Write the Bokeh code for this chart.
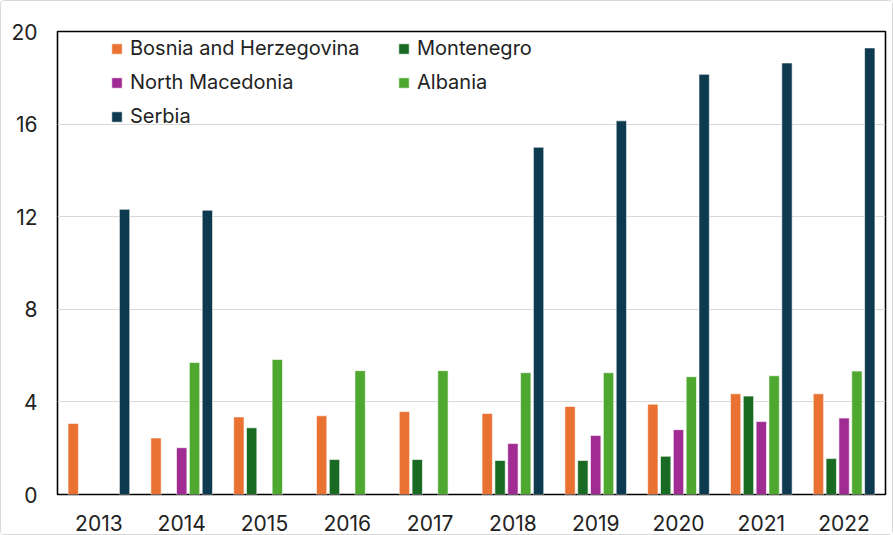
from bokeh.plotting import figure
from bokeh.models import ColumnDataSource, FactorRange, Range1d, Legend, LegendItem, FixedTicker
from bokeh.transform import dodge
from bokeh.embed import file_html
from bokeh.resources import INLINE

nan = float("nan")

years = ["2013", "2014", "2015", "2016", "2017", "2018", "2019", "2020", "2021", "2022"]
bosnia = [3.07, 2.44, 3.35, 3.4, 3.58, 3.5, 3.8, 3.9, 4.35, 4.35]
montenegro = [nan, nan, 2.88, 1.51, 1.51, 1.47, 1.47, 1.65, 4.25, 1.55]
north_macedonia = [nan, 2.02, nan, nan, nan, 2.2, 2.55, 2.8, 3.15, 3.3]
albania = [nan, 5.7, 5.83, 5.35, 5.35, 5.26, 5.26, 5.09, 5.13, 5.33]
serbia = [12.32, 12.28, nan, nan, nan, 15.0, 16.14, 18.15, 18.64, 19.29]
y_ticks = [0, 4, 8, 12, 16, 20]

series = [
    ("Bosnia and Herzegovina", bosnia, "#E97132"),
    ("Montenegro", montenegro, "#196B24"),
    ("North Macedonia", north_macedonia, "#A02B93"),
    ("Albania", albania, "#4EA72E"),
    ("Serbia", serbia, "#0E3A4F"),
]

FONT = "Inter"

source = ColumnDataSource(data=dict(
    year=years, bosnia=bosnia, montenegro=montenegro,
    north_macedonia=north_macedonia, albania=albania, serbia=serbia))
cols = ["bosnia", "montenegro", "north_macedonia", "albania", "serbia"]

p = figure(width=893, height=535, x_range=FactorRange(*years), y_range=Range1d(0, 20),
           output_backend="svg", toolbar_location=None,
           min_border_left=56, min_border_right=9, min_border_top=30, min_border_bottom=42)
p.styles = {"border": "1px solid #d9d9d9", "border-radius": "4px", "box-sizing": "border-box"}

pitch = 0.155
renderers = []
for i, (name, vals, color) in enumerate(series):
    r = p.vbar(x=dodge("year", (i - 2) * pitch, range=p.x_range), top=cols[i], width=0.125,
               source=source, fill_color=color, line_color="white", line_width=0.6)
    renderers.append((name, r))

p.outline_line_color = "black"
p.outline_line_width = 1.6
p.xgrid.grid_line_color = None
p.ygrid.grid_line_color = "#d9d9d9"
p.ygrid.grid_line_width = 1
p.yaxis.ticker = FixedTicker(ticks=y_ticks)

for ax in (p.xaxis, p.yaxis):
    ax.axis_line_color = None
    ax.major_tick_line_color = None
    ax.minor_tick_line_color = None
    ax.major_label_text_font = FONT
    ax.major_label_text_font_size = "21px"
    ax.major_label_text_color = "#222222"
p.yaxis.major_label_standoff = 14
p.xaxis.major_label_standoff = 14

def make_legend(items, vx, vy):
    lg = Legend(items=[LegendItem(label=n, renderers=[r]) for n, r in items],
                location=(vx, vy), orientation="vertical",
                padding=0, margin=0, spacing=10,
                glyph_width=13, glyph_height=13, label_standoff=7, label_height=22,
                label_text_font=FONT, label_text_font_size="20px", label_text_color="#222222",
                border_line_color=None, background_fill_alpha=0)
    p.add_layout(lg, "center")

d = dict(renderers)
make_legend([(n, d[n]) for n in ["Bosnia and Herzegovina", "North Macedonia", "Serbia"]], 53, 366)
make_legend([(n, d[n]) for n in ["Montenegro", "Albania"]], 340, 400)

open("out.html", "w").write(file_html(p, INLINE))
